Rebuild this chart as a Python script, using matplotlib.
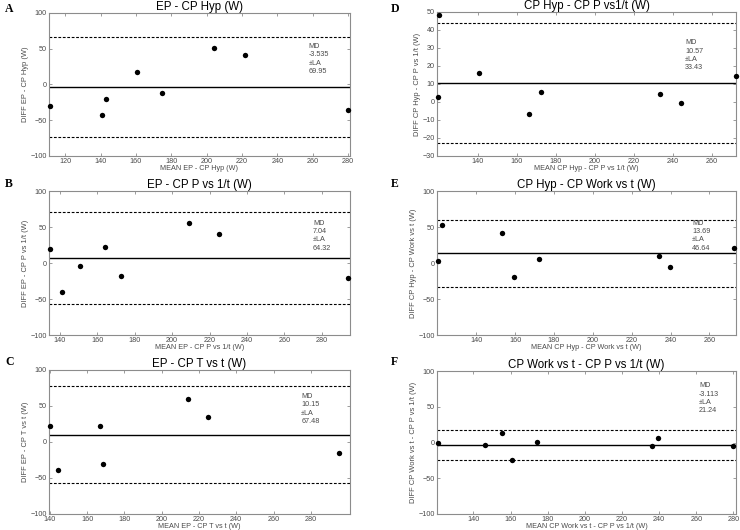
import matplotlib
matplotlib.use("Agg")
import matplotlib.pyplot as plt
import numpy as np

plt.rcParams['font.family'] = ['Liberation Sans', 'DejaVu Sans']

# ---------------- data ----------------
titles = ["EP - CP Hyp (W)", "EP - CP P vs 1/t (W)", "EP - CP T vs t (W)",
          "CP Hyp - CP P vs1/t (W)", "CP Hyp - CP Work vs t (W)", "CP Work vs t - CP P vs 1/t (W)"]
xlabels = ["MEAN EP - CP Hyp (W)", "MEAN EP - CP P vs 1/t (W)", "MEAN EP - CP T vs t (W)",
           "MEAN CP Hyp - CP P vs 1/t (W)", "MEAN CP Hyp - CP Work vs t (W)",
           "MEAN CP Work vs t - CP P vs 1/t (W)"]
ylabels = ["DIFF EP - CP Hyp (W)", "DIFF EP - CP P vs 1/t (W)", "DIFF EP - CP T vs t (W)",
           "DIFF CP Hyp - CP P vs 1/t (W)", "DIFF CP Hyp - CP Work vs t (W)",
           "DIFF CP Work vs t - CP P vs 1/t (W)"]
letters = ["A", "B", "C", "D", "E", "F"]

mean_A = [111.5, 140.6, 142.8, 160.8, 174.7, 204.2, 221.9, 280.0]
diff_A = [-29.9, -43.0, -19.6, 17.3, -11.2, 51.4, 41.6, -35.5]
mean_B = [135.0, 141.3, 150.9, 164.3, 172.7, 209.3, 225.2, 294.1]
diff_B = [19.0, -40.7, -3.7, 22.7, -17.6, 55.1, 39.8, -21.3]
mean_C = [140.0, 144.5, 166.9, 168.3, 214.3, 225.0, 295.0]
diff_C = [22.6, -39.0, 22.0, -30.0, 59.4, 34.5, -15.2]
mean_D = [119.8, 119.4, 140.7, 166.1, 172.5, 233.7, 244.3, 272.3]
diff_D = [48.5, 2.5, 16.3, -6.4, 5.7, 4.4, -0.8, 14.5]
mean_E = [120.5, 122.5, 153.5, 159.2, 172.2, 234.3, 239.6, 272.7]
diff_E = [3.2, 52.3, 41.2, -19.0, 5.6, 9.3, -6.0, 20.4]
mean_F = [120.9, 146.5, 155.6, 161.0, 174.5, 236.2, 239.2, 279.8]
diff_F = [-0.2, -4.0, 13.2, -24.8, 0.7, -4.9, 5.8, -5.3]

md_values = [-3.535, 7.04, 10.15, 10.57, 13.69, -3.113]
la_values = [69.95, 64.32, 67.48, 33.43, 46.64, 21.24]
md_texts = ["-3.535", "7.04", "10.15", "10.57", "13.69", "-3.113"]
la_texts = ["69.95", "64.32", "67.48", "33.43", "46.64", "21.24"]

means = [mean_A, mean_B, mean_C, mean_D, mean_E, mean_F]
diffs = [diff_A, diff_B, diff_C, diff_D, diff_E, diff_F]

# ---------------- layout ----------------
W, H = 740, 530
fig = plt.figure(figsize=(7.4, 5.3), dpi=100)

# axes boxes in pixels: left, right, top, bottom
boxes = [(49, 350, 13, 156), (49, 350, 191, 335), (49, 350, 370, 514),
         (437, 736, 12, 156), (437, 736, 191, 335), (437, 736, 371, 514)]
xlims = [(110.8, 281.0), (134.3, 295.0), (139.6, 301.0),
         (119.0, 272.5), (119.8, 273.7), (120.4, 281.4)]
ylims = [(-100, 100)] * 3 + [(-30, 50), (-100, 100), (-100, 100)]
yticks = [np.arange(-100, 101, 50)] * 3 + [np.arange(-30, 51, 10),
                                          np.arange(-100, 101, 50), np.arange(-100, 101, 50)]
xtick_sets = [np.arange(120, 281, 20), np.arange(140, 281, 20), np.arange(140, 281, 20),
              np.arange(140, 261, 20), np.arange(140, 261, 20), np.arange(140, 281, 20)]
text_pos = [(0.862, 0.79), (0.877, 0.80), (0.838, 0.84),
            (0.83, 0.81), (0.853, 0.80), (0.876, 0.92)]
letter_pos = [(5, 9), (5, 184), (5, 362), (391, 9), (391, 184), (391, 362)]

gray = '#8c8c8c'
tgray = '#4a4a4a'

for i in range(6):
    l, r, t, b = boxes[i]
    ax = fig.add_axes([l / W, 1 - b / H, (r - l) / W, (b - t) / H])
    x = np.array(means[i])
    y = np.array(diffs[i])
    md = md_values[i]
    la = la_values[i]
    ax.axhline(md, color='black', lw=1.0, zorder=2)
    ax.axhline(md + la, color='black', lw=0.8, ls=(0, (2.5, 1.5)), zorder=2)
    ax.axhline(md - la, color='black', lw=0.8, ls=(0, (2.5, 1.5)), zorder=2)
    ax.scatter(x, y, s=15, color='black', zorder=3, clip_on=False, linewidths=0)
    ax.set_xlim(*xlims[i])
    ax.set_ylim(*ylims[i])
    ax.set_xticks(xtick_sets[i])
    ax.set_yticks(yticks[i])
    ax.tick_params(direction='in', length=2.5, width=0.6, color=gray, labelsize=5.2,
                   labelcolor=tgray, pad=1.5, top=True, right=True)
    for sp in ax.spines.values():
        sp.set_color(gray)
        sp.set_linewidth(0.8)
    ax.set_title(titles[i], fontsize=8.3, pad=2.5)
    ax.set_xlabel(xlabels[i], fontsize=5.2, color=tgray, labelpad=0)
    ax.set_ylabel(ylabels[i], fontsize=5.4, color=tgray, labelpad=1)
    ax.text(text_pos[i][0], text_pos[i][1],
            "MD\n" + md_texts[i] + "\n\u00b1LA\n" + la_texts[i],
            transform=ax.transAxes, fontsize=5.2, color=tgray, va='top', ha='left',
            linespacing=1.25)
    fig.text(letter_pos[i][0] / W, 1 - letter_pos[i][1] / H, letters[i],
             family=['Liberation Serif'], fontweight='bold', fontsize=8.5, va='center', ha='left')

fig.savefig("out.png", dpi=100)
